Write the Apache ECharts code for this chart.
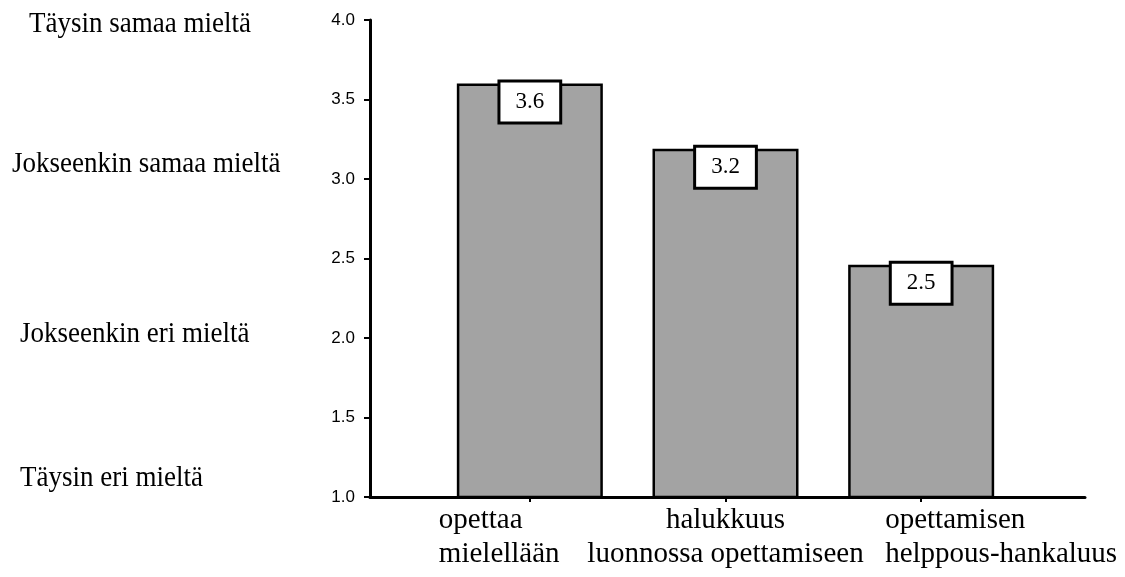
<!DOCTYPE html>
<html><head><meta charset="utf-8">
<script src="https://cdn.jsdelivr.net/npm/echarts/dist/echarts.min.js"></script>
<style>html,body{margin:0;padding:0;background:#fff}#c{width:1125px;height:577px}</style>
</head><body><div id="c"></div>
<script>
const categories = ['opettaa\nmielellään', 'halukkuus\nluonnossa opettamiseen', 'opettamisen\nhelppous-hankaluus'];
const values = [3.6, 3.19, 2.46];
const yMin = 1.0, yMax = 4.0, yStep = 0.5;
const scaleLabels = ['Täysin samaa mieltä', 'Jokseenkin samaa mieltä', 'Jokseenkin eri mieltä', 'Täysin eri mieltä'];

const serif = '"Liberation Serif", "Times New Roman", serif';
const sans = '"Liberation Sans", Arial, sans-serif';
const labFont = {fontFamily: serif, fontSize: 29, lineHeight: 34, color: '#000'};

const chart = echarts.init(document.getElementById('c'), null, {renderer: 'canvas'});
chart.setOption({
  animation: false,
  backgroundColor: '#fff',
  grid: [
    {left: 370, right: 40, top: 20, bottom: 80},
    {left: 432, width: 587, top: 20, bottom: 80}
  ],
  xAxis: [
    {gridIndex: 0, type: 'value', min: 0, max: 1,
     axisLine: {show: true, lineStyle: {color: '#000', width: 3}},
     axisTick: {show: false}, axisLabel: {show: false}, splitLine: {show: false}},
    {gridIndex: 1, type: 'category', data: categories,
     axisLine: {show: false},
     axisTick: {show: true, alignWithLabel: true, length: 5, lineStyle: {color: '#000', width: 2}},
     axisLabel: {
       interval: 0, margin: 6, color: '#000', fontFamily: serif, fontSize: 29, lineHeight: 34,
       formatter: function (value, index) {
         const lines = value.split('\n');
         if (index === 0) return lines.map(l => '{a|' + l + '}').join('\n');
         if (index === 2) return lines.map(l => '{s| }{b|' + l + '}').join('\n');
         return lines.map(l => '{c|' + l + '}').join('\n');
       },
       rich: {
         a: Object.assign({width: 182, align: 'left'}, labFont),
         s: Object.assign({width: 160, align: 'left'}, labFont),
         b: Object.assign({align: 'left'}, labFont),
         c: Object.assign({align: 'center'}, labFont)
       }
     }}
  ],
  yAxis: [
    {gridIndex: 0, type: 'value', min: yMin, max: yMax, interval: yStep,
     axisLine: {show: true, lineStyle: {color: '#000', width: 3}},
     axisTick: {show: true, length: 6, lineStyle: {color: '#000', width: 2}},
     axisLabel: {margin: 15, color: '#000', fontFamily: sans, fontSize: 17,
       formatter: v => v.toFixed(1)},
     splitLine: {show: false}},
    {gridIndex: 1, type: 'value', min: yMin, max: yMax, interval: yStep, show: false}
  ],
  series: [{
    type: 'bar', xAxisIndex: 1, yAxisIndex: 1, data: values, barWidth: 146,
    itemStyle: {color: '#a3a3a3', borderColor: '#000', borderWidth: 2.5},
    label: {
      show: true, position: 'insideTop', distance: 0, offset: [0, -1],
      formatter: p => p.value.toFixed(1),
      fontFamily: serif, fontSize: 23, lineHeight: 23, color: '#000',
      backgroundColor: '#fff', borderColor: '#000', borderWidth: 3,
      padding: [8, 15, 8, 15]
    },
    z: 1
  }],
  graphic: [
    {type: 'text', x: 29, y: 24, scaleY: 1.1, style: {text: scaleLabels[0], font: '27px ' + serif, fill: '#000', verticalAlign: 'middle'}},
    {type: 'text', x: 12, y: 164, scaleY: 1.1, style: {text: scaleLabels[1], font: '27px ' + serif, fill: '#000', verticalAlign: 'middle'}},
    {type: 'text', x: 20, y: 334, scaleY: 1.1, style: {text: scaleLabels[2], font: '27px ' + serif, fill: '#000', verticalAlign: 'middle'}},
    {type: 'text', x: 20, y: 478, scaleY: 1.1, style: {text: scaleLabels[3], font: '27px ' + serif, fill: '#000', verticalAlign: 'middle'}}
  ]
});
</script>
</body></html>
